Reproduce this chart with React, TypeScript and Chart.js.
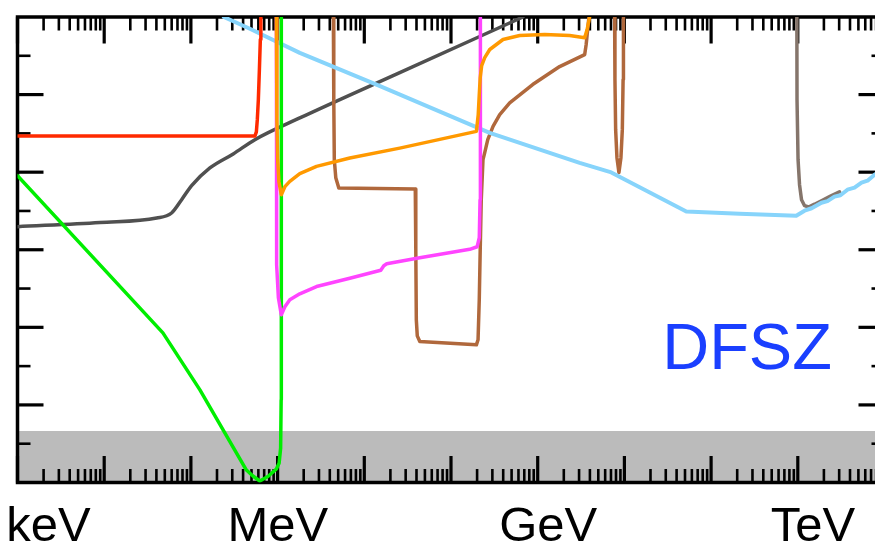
import React, { useEffect, useRef } from "react";
import { Chart, registerables } from "chart.js";

Chart.register(...registerables);

// x: log10(E / eV), y: coupling axis in decades (unlabelled)
const X_MIN = 3;
const X_MAX = 13;
const Y_MIN = 0;
const Y_MAX = 6;

const energyLabels = ["keV", "MeV", "GeV", "TeV"];
const energyLabelX = [3.357, 6.003, 9.121, 12.175];

const modelLabel = "DFSZ";
const modelLabelX = 11.415;
const modelLabelY = 1.465;

const bandX = [2.95, 13.1];
const bandY = [0.665, 0.665];

const redX = [3.0, 5.738, 5.755, 5.766, 5.778, 5.79, 5.801, 5.807];
const redY = [4.465, 4.465, 4.52, 4.677, 4.935, 5.323, 5.71, 6.0];

const greenX = [3.0, 4.677, 5.104, 5.64, 5.715, 5.795, 5.888, 5.986, 6.018, 6.035, 6.041, 6.043, 6.043];
const greenY = [3.955, 1.929, 1.194, 0.161, 0.084, 0.019, 0.077, 0.174, 0.252, 0.445, 1.065, 2.355, 6.0];

const darkX = [3.0, 3.951, 4.605, 4.777, 4.893, 5.008, 5.219, 5.488, 5.738, 6.256, 7.409, 8.83];
const darkY = [3.297, 3.352, 3.409, 3.474, 3.645, 3.826, 4.054, 4.235, 4.419, 4.699, 5.284, 6.0];

const blueX = [5.38, 5.68, 6.256, 7.141, 8.447, 9.484, 9.849, 10.714, 11.328, 11.982, 12.078, 12.159, 12.273, 12.342, 12.423, 12.492, 12.573, 12.654, 12.735, 12.804, 12.885, 13.0];
const blueY = [6.0, 5.848, 5.538, 5.129, 4.506, 4.119, 3.997, 3.494, 3.465, 3.439, 3.503, 3.535, 3.606, 3.626, 3.684, 3.703, 3.774, 3.8, 3.864, 3.89, 3.968, 4.045];

const orangeX = [5.986, 5.992, 6.001, 6.015, 6.043, 6.084, 6.141, 6.256, 6.449, 6.833, 7.409, 8.293, 8.314, 8.326, 8.337, 8.354, 8.389, 8.447, 8.6, 8.792, 9.081, 9.369, 9.542, 9.57, 9.599];
const orangeY = [6.0, 4.677, 4.161, 3.877, 3.71, 3.813, 3.881, 3.981, 4.075, 4.183, 4.31, 4.526, 4.742, 5.0, 5.219, 5.374, 5.477, 5.581, 5.71, 5.761, 5.774, 5.761, 5.732, 5.839, 6.0];

const magentaX = [5.986, 5.986, 5.992, 6.009, 6.043, 6.084, 6.141, 6.256, 6.449, 6.833, 7.19, 7.225, 7.259, 7.64, 8.216, 8.302, 8.326, 8.335, 8.339];
const magentaY = [6.0, 3.645, 2.806, 2.381, 2.161, 2.265, 2.355, 2.432, 2.526, 2.632, 2.735, 2.794, 2.819, 2.897, 3.006, 3.039, 3.155, 3.645, 6.0];

const brownX = [6.643, 6.648, 6.654, 6.671, 6.706, 7.588, 7.594, 7.6, 7.611, 7.64, 8.293, 8.312, 8.326, 8.337, 8.349, 8.369, 8.389, 8.424, 8.485, 8.562, 8.677, 8.942, 9.253, 9.542, 9.559, 9.591];
const brownY = [6.0, 4.935, 4.161, 3.929, 3.796, 3.783, 3.0, 2.097, 1.89, 1.817, 1.774, 1.839, 2.355, 3.0, 3.645, 4.161, 4.252, 4.419, 4.591, 4.742, 4.893, 5.129, 5.361, 5.516, 5.645, 6.0];

const dipX = [9.887, 9.891, 9.899, 9.914, 9.937, 9.96, 9.976, 9.985, 9.989];
const dipY = [6.0, 5.194, 4.548, 4.187, 3.994, 4.187, 4.548, 5.194, 6.0];

const taupeX = [11.989, 11.991, 12.003, 12.02, 12.043, 12.078, 12.124, 12.193, 12.273, 12.366, 12.481];
const taupeY = [6.0, 4.935, 4.161, 3.839, 3.645, 3.568, 3.551, 3.587, 3.632, 3.684, 3.748];

const pts = (xs: number[], ys: number[]) => xs.map((x, i) => ({ x, y: ys[i] }));

const line = (xs: number[], ys: number[], color: string, width = 3.5, smooth = false) => ({
  data: pts(xs, ys),
  borderColor: color,
  borderWidth: width,
  pointRadius: 0,
  tension: smooth ? 0.4 : 0,
  cubicInterpolationMode: smooth ? ("monotone" as const) : ("default" as const),
  fill: false,
  borderJoinStyle: "round" as const,
  borderCapStyle: "round" as const,
});

export default function App() {
  const ref = useRef<HTMLCanvasElement | null>(null);

  useEffect(() => {
    if (!ref.current) return;

    const datasets: any[] = [
      line(orangeX, orangeY, "#ff9900"),
      line(magentaX, magentaY, "#ff44ff"),
      line(greenX, greenY, "#00ee00"),
      line(redX, redY, "#ff2a00"),
      line(blueX, blueY, "#87d4fb", 4),
      line(brownX, brownY, "#b0683c"),
      line(dipX, dipY, "#b0683c"),
      line(taupeX, taupeY, "#85756b"),
      line(darkX, darkY, "#505050", 3.5, true),
      {
        data: pts(bandX, bandY),
        borderWidth: 0,
        borderColor: "rgba(0,0,0,0)",
        backgroundColor: "#bbbbbb",
        pointRadius: 0,
        fill: "start",
        clip: { left: 5, top: 0, right: 0, bottom: 1 },
      },
    ];
    const BAND_INDEX = datasets.length - 1;

    const drawSeg = (ctx: CanvasRenderingContext2D, x1: number, y1: number, x2: number, y2: number) => {
      ctx.beginPath();
      ctx.moveTo(x1, y1);
      ctx.lineTo(x2, y2);
      ctx.stroke();
    };

    const framePlugin = {
      id: "frameTicks",
      afterDatasetDraw(chart: any, args: any) {
        if (args.index !== BAND_INDEX) return;
        const { ctx, chartArea: a, scales } = chart;
        const xs = scales.x;
        const ys = scales.y;
        ctx.save();
        ctx.strokeStyle = "#000";
        ctx.lineCap = "butt";
        for (let d = X_MIN; d < X_MAX; d++) {
          for (let k = 1; k <= 9; k++) {
            const px = xs.getPixelForValue(d + Math.log10(k));
            const major = k === 1;
            const len = major ? 26.5 : 13.5;
            ctx.lineWidth = major ? 3.2 : 2.6;
            drawSeg(ctx, px, a.bottom, px, a.bottom - len);
            drawSeg(ctx, px, a.top, px, a.top + len);
          }
        }
        const steps = Math.round((Y_MAX - Y_MIN) / 0.5);
        for (let i = 1; i < steps; i++) {
          const py = ys.getPixelForValue(Y_MIN + i * 0.5);
          const major = i % 2 === 0;
          const len = major ? 26 : 13;
          ctx.lineWidth = major ? 3.2 : 2.6;
          drawSeg(ctx, a.left, py, a.left + len, py);
          drawSeg(ctx, a.right, py, a.right - len, py);
        }
        ctx.lineWidth = 3.5;
        ctx.strokeRect(a.left, a.top, a.right - a.left, a.bottom - a.top);
        ctx.restore();
      },
      afterDraw(chart: any) {
        const { ctx, chartArea: a, scales } = chart;
        ctx.save();
        ctx.fillStyle = "#000";
        ctx.font = "49px 'Liberation Sans', Arial, sans-serif";
        ctx.textAlign = "center";
        ctx.textBaseline = "alphabetic";
        energyLabels.forEach((t, i) => {
          ctx.fillText(t, scales.x.getPixelForValue(energyLabelX[i]), a.bottom + 58.5);
        });
        ctx.fillStyle = "#1a3fff";
        ctx.font = "65px 'Liberation Sans', Arial, sans-serif";
        ctx.fillText(modelLabel, scales.x.getPixelForValue(modelLabelX), scales.y.getPixelForValue(modelLabelY));
        ctx.restore();
      },
    };

    const chart = new Chart(ref.current, {
      type: "line",
      data: { datasets },
      options: {
        animation: false,
        responsive: false,
        devicePixelRatio: 1,
        layout: { padding: { left: 17.5, right: 15.5, top: 17, bottom: 65.5 } },
        plugins: { legend: { display: false }, tooltip: { enabled: false } },
        scales: {
          x: { type: "linear", min: X_MIN, max: X_MAX, display: false },
          y: { type: "linear", min: Y_MIN, max: Y_MAX, display: false },
        },
      },
      plugins: [framePlugin],
    });
    return () => chart.destroy();
  }, []);

  return (
    <div
      style={{
        position: "fixed",
        left: 0,
        top: 0,
        width: 875,
        height: 548,
        overflow: "hidden",
        background: "#fff",
      }}
    >
      <canvas ref={ref} width={900} height={548} style={{ display: "block" }} />
    </div>
  );
}
